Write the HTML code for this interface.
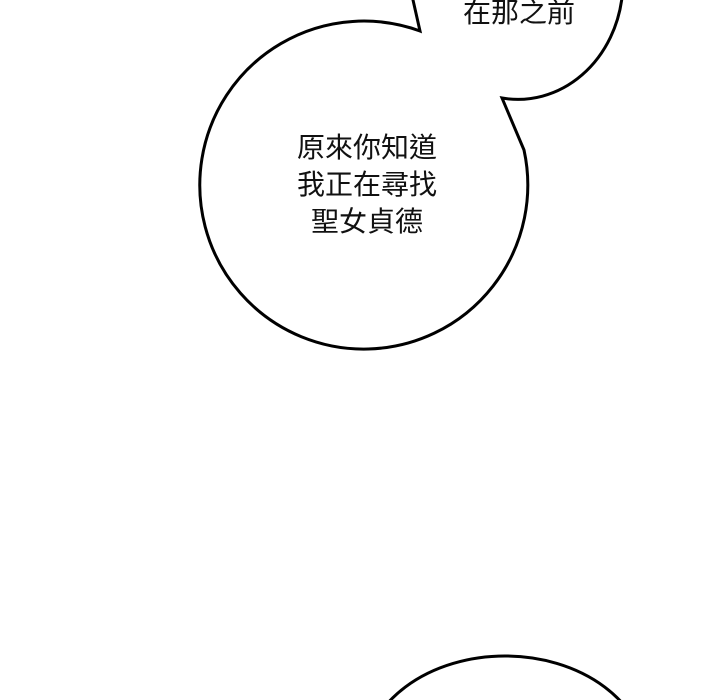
<!DOCTYPE html>
<html><head><meta charset="utf-8"><style>
html,body{margin:0;padding:0;background:#fff;width:720px;height:700px;overflow:hidden}
svg{display:block}
text{font-family:"Liberation Sans","Noto Sans CJK TC",sans-serif;font-size:28px;fill:#111}
</style></head><body>
<svg width="720" height="700" viewBox="0 0 720 700">
<path d="M420,31 A164 164 0 1 0 524,150 L502,98 A105 118 0 1 0 413,-20 L413,0 Z" fill="#fff" stroke="#000" stroke-width="3" stroke-linejoin="miter"/>
<ellipse cx="505" cy="762" rx="141" ry="106" fill="#fff" stroke="#000" stroke-width="3"/>
<text x="519" y="22" text-anchor="middle">在那之前</text>
<text x="367" y="157" text-anchor="middle">原來你知道</text>
<text x="367" y="194" text-anchor="middle">我正在尋找</text>
<text x="367" y="231" text-anchor="middle">聖女貞德</text>
</svg>
</body></html>
